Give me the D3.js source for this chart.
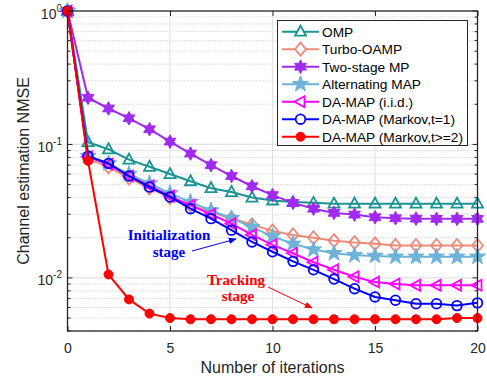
<!DOCTYPE html>
<html><head><meta charset="utf-8">
<script src="https://cdn.jsdelivr.net/npm/d3@7"></script>
<style>body{margin:0;background:#fff}svg{display:block}</style>
</head><body><svg id="c" width="487" height="377"></svg>
<script>
// ---- data ----
const iterations = d3.range(0, 21);
const ompNMSE      = [1, 0.104, 0.092, 0.077, 0.068, 0.060, 0.053, 0.047, 0.044, 0.040, 0.038, 0.037, 0.0365, 0.036, 0.036, 0.036, 0.036, 0.036, 0.036, 0.036, 0.036];
const turboNMSE    = [1, 0.078, 0.068, 0.056, 0.047, 0.040, 0.035, 0.031, 0.028, 0.025, 0.0225, 0.021, 0.0200, 0.019, 0.0184, 0.018, 0.0175, 0.0175, 0.0175, 0.0175, 0.0175];
const twoStageNMSE = [1, 0.224, 0.186, 0.157, 0.130, 0.105, 0.0855, 0.070, 0.058, 0.0486, 0.0417, 0.0365, 0.033, 0.0307, 0.0298, 0.0285, 0.028, 0.0278, 0.0277, 0.0277, 0.0277];
const altMapNMSE   = [1, 0.082, 0.072, 0.060, 0.051, 0.043, 0.037, 0.032, 0.028, 0.024, 0.0205, 0.018, 0.0163, 0.0153, 0.0148, 0.0146, 0.0144, 0.0144, 0.0144, 0.0144, 0.0144];
const daIidNMSE    = [1, 0.081, 0.071, 0.058, 0.049, 0.041, 0.035, 0.030, 0.0255, 0.021, 0.0177, 0.0153, 0.0131, 0.0115, 0.0102, 0.0093, 0.0090, 0.0088, 0.0088, 0.0088, 0.0088];
const daM1NMSE     = [1, 0.0817, 0.072, 0.058, 0.048, 0.0404, 0.033, 0.0278, 0.0228, 0.0186, 0.0157, 0.0133, 0.0115, 0.0098, 0.0083, 0.0072, 0.0068, 0.0064, 0.0064, 0.0062, 0.0065];
const daM2NMSE     = [1, 0.0755, 0.0106, 0.0069, 0.0054, 0.0050, 0.0049, 0.0049, 0.0049, 0.0049, 0.0049, 0.0049, 0.0049, 0.0049, 0.0049, 0.0049, 0.0049, 0.0049, 0.0049, 0.0050, 0.0050];
const seriesNames  = ["OMP", "Turbo-OAMP", "Two-stage MP", "Alternating MAP", "DA-MAP (i.i.d.)", "DA-MAP (Markov,t=1)", "DA-MAP (Markov,t>=2)"];
const xTickValues  = [0, 5, 10, 15, 20];
const yTickExps    = [0, -1, -2];

// ---- styles ----
const styles = [
  {color:"#1a9393", marker:"triUp",   fill:false},
  {color:"#ec8a78", marker:"diamond", fill:false},
  {color:"#a02af0", marker:"hexagram",fill:true},
  {color:"#6cb2d9", marker:"star",    fill:true},
  {color:"#ff00ff", marker:"triLeft", fill:false},
  {color:"#0000ff", marker:"circle",  fill:false},
  {color:"#ff0000", marker:"dot",     fill:true}
];
const allValues = [ompNMSE, turboNMSE, twoStageNMSE, altMapNMSE, daIidNMSE, daM1NMSE, daM2NMSE];

const W = 487, H = 377;
const L = 67.5, R = 477.5, T = 11, B = 331;
const x = d3.scaleLinear().domain([0, 20]).range([L, R]);
const y = d3.scaleLog().domain([0.004, 1]).range([B, T]);
const svg = d3.select("#c");
const sans = "'Liberation Sans', Arial, Helvetica, sans-serif";
const serif = "'Liberation Serif', 'Times New Roman', serif";

svg.append("rect").attr("x",0).attr("y",0).attr("width",W).attr("height",H).attr("fill","#fff");

// grid
const minorY = [];
[0.001, 0.01, 0.1].forEach(d => { for (let k=2;k<=9;k++){ const v=d*k; if (v>=0.004 && v<1) minorY.push(v);} });
const grid = svg.append("g");
grid.selectAll(".mg").data(minorY).enter().append("line")
  .attr("x1",L).attr("x2",R).attr("y1",d=>y(d)).attr("y2",d=>y(d))
  .attr("stroke","#bdbdbd").attr("stroke-width",0.8).attr("stroke-dasharray","1.2,1.8");
grid.selectAll(".Mg").data([0.1,0.01]).enter().append("line")
  .attr("x1",L).attr("x2",R).attr("y1",d=>y(d)).attr("y2",d=>y(d))
  .attr("stroke","#e2e2e2").attr("stroke-width",1.2);
grid.selectAll(".xg").data([5,10,15]).enter().append("line")
  .attr("x1",d=>x(d)).attr("x2",d=>x(d)).attr("y1",T).attr("y2",B)
  .attr("stroke","#e2e2e2").attr("stroke-width",1.2);

// axes using d3 axis (ticks inward)
const xAxis = d3.axisBottom(x).tickValues(xTickValues).tickSize(-5).tickPadding(12).tickFormat(d3.format("d"));
const gx = svg.append("g").attr("transform",`translate(0,${B})`).call(xAxis);
gx.select(".domain").remove();
gx.selectAll("line").attr("stroke","#262626");
gx.selectAll("text").attr("font-family",sans).attr("font-size",14).attr("fill","#262626");
const xAxisTop = d3.axisTop(x).tickValues(xTickValues).tickSize(-5).tickFormat("");
const gxt = svg.append("g").attr("transform",`translate(0,${T})`).call(xAxisTop);
gxt.select(".domain").remove(); gxt.selectAll("line").attr("stroke","#262626");

const yMajor = yTickExps.map(e => Math.pow(10, e));
[[L,1],[R,-1]].forEach(([px,dir]) => {
  const g = svg.append("g");
  g.selectAll(".mt").data(minorY).enter().append("line")
    .attr("x1",px).attr("x2",px+dir*3).attr("y1",d=>y(d)).attr("y2",d=>y(d))
    .attr("stroke","#262626").attr("stroke-width",1);
  g.selectAll(".Mt").data(yMajor).enter().append("line")
    .attr("x1",px).attr("x2",px+dir*5).attr("y1",d=>y(d)).attr("y2",d=>y(d))
    .attr("stroke","#262626").attr("stroke-width",1);
});
// y tick labels
const yl = svg.append("g");
yTickExps.forEach(e => {
  const t = yl.append("text").attr("x", 62).attr("y", y(Math.pow(10,e)) + 7.5)
    .attr("text-anchor","end").attr("font-family",sans).attr("font-size",14).attr("fill","#262626");
  t.append("tspan").text("10");
  t.append("tspan").attr("font-size",10).attr("dy",-7).text(e === 0 ? "0" : "-" + Math.abs(e));
});

// axis titles
svg.append("text").attr("x",(L+R)/2).attr("y",373).attr("text-anchor","middle")
  .attr("font-family",sans).attr("font-size",16).attr("fill","#262626").text("Number of iterations");
svg.append("text").attr("transform",`translate(28.5,${(T+B)/2}) rotate(-90)`).attr("text-anchor","middle")
  .attr("font-family",sans).attr("font-size",16).attr("fill","#262626").text("Channel estimation NMSE");

// marker paths
function markerPath(type){
  const p = d3.path();
  const poly = pts => { p.moveTo(pts[0][0],pts[0][1]); pts.slice(1).forEach(q=>p.lineTo(q[0],q[1])); p.closePath(); };
  const starPts = (n, ro, ri) => d3.range(2*n).map(i => { const r = i%2?ri:ro; const a = -Math.PI/2 + i*Math.PI/n; return [r*Math.cos(a), r*Math.sin(a)]; });
  switch(type){
    case "triUp": poly([[0,-6],[5.5,4],[-5.5,4]]); break;
    case "triLeft": poly([[-6,0],[4,-5.5],[4,5.5]]); break;
    case "diamond": poly([[0,-6.5],[5.5,0],[0,6.5],[-5.5,0]]); break;
    case "star": poly(starPts(5, 8.5, 3.4)); break;
    case "hexagram": poly(starPts(6, 6.8, 3.8)); break;
    case "circle": p.arc(0,0,4.8,0,2*Math.PI); break;
    case "dot": p.arc(0,0,4.5,0,2*Math.PI); break;
  }
  return p.toString();
}

// series
const line = d3.line().x((d,i)=>x(iterations[i])).y(d=>y(d));
const plot = svg.append("g");
allValues.forEach((vals, si) => {
  const st = styles[si];
  const g = plot.append("g");
  g.append("path").attr("d", line(vals)).attr("fill","none").attr("stroke",st.color).attr("stroke-width",2);
  g.selectAll("path.m").data(vals).enter().append("path").attr("class","m")
    .attr("d", markerPath(st.marker))
    .attr("transform",(d,i)=>`translate(${x(iterations[i])},${y(d)})`)
    .attr("fill", st.fill ? st.color : "none").attr("stroke",st.color).attr("stroke-width",st.fill?1:1.8);
});

// frame
svg.append("rect").attr("x",L).attr("y",T).attr("width",R-L).attr("height",B-T)
  .attr("fill","none").attr("stroke","#262626").attr("stroke-width",1.3);

// legend
const lg = svg.append("g");
lg.append("rect").attr("x",277.5).attr("y",20.5).attr("width",190).attr("height",125)
  .attr("fill","#fff").attr("stroke","#262626").attr("stroke-width",1);
seriesNames.forEach((name, i) => {
  const st = styles[i];
  const yy = 31.7 + 17.5*i;
  lg.append("line").attr("x1",282).attr("x2",319).attr("y1",yy).attr("y2",yy).attr("stroke",st.color).attr("stroke-width",2);
  lg.append("path").attr("d",markerPath(st.marker)).attr("transform",`translate(300.5,${yy})`)
    .attr("fill", st.fill ? st.color : "#fff").attr("stroke",st.color).attr("stroke-width",st.fill?1:1.8);
  lg.append("text").attr("x",322).attr("y",yy+5).attr("font-family",sans).attr("font-size",13.7).attr("fill","#000").text(name);
});

// annotations
const defs = svg.append("defs");
[["ab","#0000ff"],["ar","#ff0000"]].forEach(([id,c]) => {
  defs.append("marker").attr("id",id).attr("viewBox","0 0 10 10").attr("refX",9).attr("refY",5)
    .attr("markerWidth",8).attr("markerHeight",8).attr("markerUnits","userSpaceOnUse").attr("orient","auto")
    .append("path").attr("d","M0,1 L10,5 L0,9 Z").attr("fill",c);
});
const ann = svg.append("g").attr("font-family",serif).attr("font-weight","bold").attr("font-size",15).attr("text-anchor","middle");
ann.append("text").attr("x",169).attr("y",240).attr("fill","#0000ff").text("Initialization");
ann.append("text").attr("x",169).attr("y",257).attr("fill","#0000ff").text("stage");
ann.append("text").attr("x",236).attr("y",285).attr("fill","#ff0000").text("Tracking");
ann.append("text").attr("x",238).attr("y",301).attr("fill","#ff0000").text("stage");
svg.append("line").attr("x1",192).attr("y1",251).attr("x2",236).attr("y2",239)
  .attr("stroke","#0000ff").attr("stroke-width",1).attr("marker-end","url(#ab)");
svg.append("line").attr("x1",268).attr("y1",287).attr("x2",312).attr("y2",308)
  .attr("stroke","#ff0000").attr("stroke-width",1).attr("marker-end","url(#ar)");
</script></body></html>
